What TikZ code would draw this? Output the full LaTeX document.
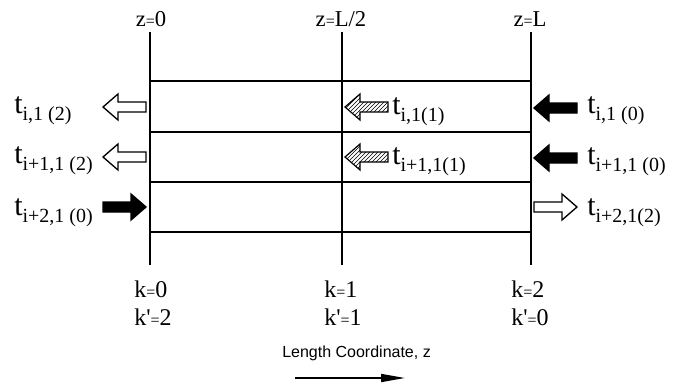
\documentclass[tikz,border=0pt]{standalone}
\usepackage{fontspec}
\setmainfont{Liberation Serif}
\newfontfamily\sansf{Liberation Sans}
\usetikzlibrary{arrows.meta,patterns}
\newcommand\tlab[1]{{\fontsize{22.5}{22.5}\selectfont t}\raisebox{-5.5pt}{\fontsize{15}{15}\selectfont #1}}
\newcommand\eqs{{\fontsize{12}{12}\selectfont =}}
\newcommand\kp{k\textquotesingle}
\tikzset{
  larrow/.pic={\path[pic actions] (0,0) -- (15,-13) -- (15,-5) -- (43,-5) -- (43,5) -- (15,5) -- (15,13) -- cycle;},
  hollowarr/.style={draw=black, fill=white, line width=1pt},
  solidarr/.style={draw=black, fill=black, line width=1pt},
  hatcharr/.style={draw=black, pattern=north east lines, line width=0.9pt},
  gridline/.style={line width=1pt},
  lab/.style={anchor=base west, inner sep=0pt},
  toplab/.style={anchor=base, inner sep=0pt, font=\fontsize{17}{17}\selectfont},
  klab/.style={anchor=base west, inner sep=0pt, font=\fontsize{18}{18}\selectfont}
}
\begin{document}
\begin{tikzpicture}[x=0.75pt,y=-0.75pt]
\useasboundingbox (0,0) rectangle (678,386);
% grid coordinates
\coordinate (v0t) at (150,32); \coordinate (v0b) at (150,265);
\coordinate (v1t) at (342,32); \coordinate (v1b) at (342,265);
\coordinate (v2t) at (531,32); \coordinate (v2b) at (531,265);
\foreach \n/\y in {1/81,2/132,3/182,4/232}{
  \coordinate (h\n l) at (150,\y); \coordinate (h\n r) at (531,\y);
}
\draw[gridline] (v0t) -- (v0b);
\draw[gridline] (v1t) -- (v1b);
\draw[gridline] (v2t) -- (v2b);
\foreach \n in {1,2,3,4}{\draw[gridline] (h\n l) -- (h\n r);}
% top labels
\node[toplab] (z0) at (151,26) {z\eqs0};
\node[toplab] (zh) at (341,26) {z\eqs L/2};
\node[toplab] (zl) at (530,26) {z\eqs L};
% arrows
\pic[hollowarr] at (103,107) {larrow};
\pic[hollowarr] at (103,157) {larrow};
\pic[solidarr, xscale=-1] at (146,207) {larrow};
\pic[hatcharr] at (345,107) {larrow};
\pic[hatcharr] at (345,157) {larrow};
\pic[solidarr] at (534,108) {larrow};
\pic[solidarr] at (534,158) {larrow};
\pic[hollowarr, xscale=-1] at (577,207) {larrow};
% t labels
\node[lab] (l1) at (14,113) {\tlab{i,1 (2)}};
\node[lab] (l2) at (14,163) {\tlab{i+1,1 (2)}};
\node[lab] (l3) at (14,215) {\tlab{i+2,1 (0)}};
\node[lab] (m1) at (392,114) {\tlab{i,1(1)}};
\node[lab] (m2) at (392,164) {\tlab{i+1,1(1)}};
\node[lab] (r1) at (587,113) {\tlab{i,1 (0)}};
\node[lab] (r2) at (587,164) {\tlab{i+1,1 (0)}};
\node[lab] (r3) at (587,215) {\tlab{i+2,1(2)}};
% k labels
\node[klab] (k0) at (134,297) {k\eqs0};
\node[klab] (kp0) at (134,325) {\kp\eqs2};
\node[klab] (k1) at (324,297) {k\eqs1};
\node[klab] (kp1) at (324,325) {\kp\eqs1};
\node[klab] (k2) at (511,297) {k\eqs2};
\node[klab] (kp2) at (511,325) {\kp\eqs0};
% length coordinate
\node[lab, font=\sansf\fontsize{12}{12}\selectfont] (lc) at (282,357) {Length Coordinate, z};
\coordinate (as) at (295,378); \coordinate (ae) at (405,378);
\draw[line width=1.2pt, -{Triangle[length=18pt,width=6pt]}] (as) -- (ae);
\end{tikzpicture}
\end{document}
